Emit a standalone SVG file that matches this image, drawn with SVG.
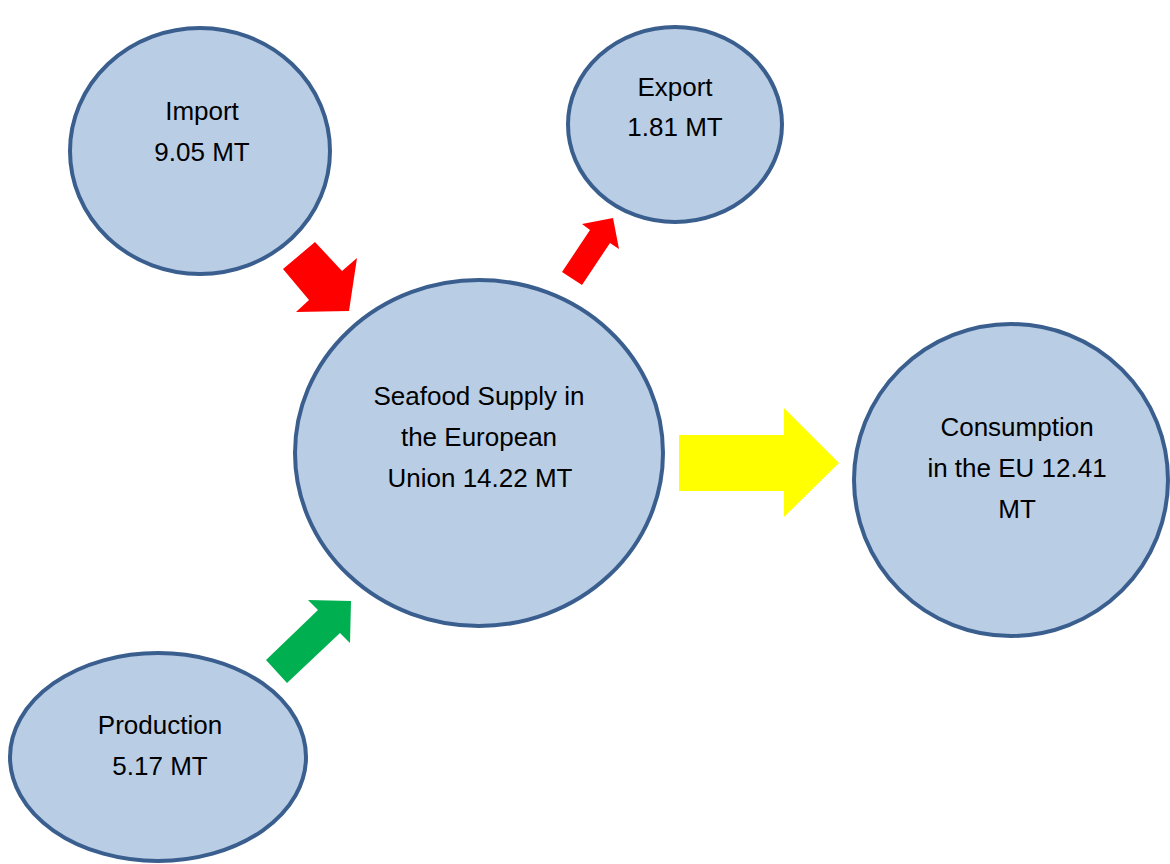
<svg xmlns="http://www.w3.org/2000/svg" width="1170" height="864" viewBox="0 0 1170 864">
  <style>
    .node ellipse { fill: #B9CDE5; stroke: #3A5F8F; stroke-width: 4; }
    .node text { font-family: "Liberation Sans", Arial, sans-serif; font-size: 26px; fill: #000; text-anchor: middle; }
  </style>
  <rect width="1170" height="864" fill="#FFFFFF"/>

  <g id="import" class="node">
    <ellipse cx="200" cy="151" rx="130" ry="123"/>
    <text x="202" y="120">Import</text>
    <text x="202" y="161">9.05 MT</text>
  </g>

  <g id="export" class="node">
    <ellipse cx="675" cy="124.5" rx="107" ry="97.5"/>
    <text x="675" y="96">Export</text>
    <text x="675" y="136">1.81 MT</text>
  </g>

  <g id="supply" class="node">
    <ellipse cx="479" cy="453" rx="184" ry="173"/>
    <text x="479" y="405">Seafood Supply in</text>
    <text x="479" y="446">the European</text>
    <text x="480" y="487">Union 14.22 MT</text>
  </g>

  <g id="consumption" class="node">
    <ellipse cx="1011" cy="480" rx="157" ry="156"/>
    <text x="1017" y="436">Consumption</text>
    <text x="1017" y="477">in the EU 12.41</text>
    <text x="1017" y="518">MT</text>
  </g>

  <g id="production" class="node">
    <ellipse cx="158" cy="757" rx="148" ry="104"/>
    <text x="160" y="734">Production</text>
    <text x="160" y="775">5.17 MT</text>
  </g>

  <!-- block arrows between the nodes -->
  <g id="connectors">
    <polygon fill="#FF0000" points="283,269 315,242 342,271 357,258 349,311 296,312 309,300"/>
    <polygon fill="#FF0000" points="562,272 590,230 582,224 613,218 619,249 610,243 582,285"/>
    <polygon fill="#FFFF00" points="679,435 784,435 784,408 839,463 784,517 784,491 679,491"/>
    <polygon fill="#00B050" points="266,660 318,610 308,600 351,601 350,643 340,633 287,683"/>
  </g>
</svg>
